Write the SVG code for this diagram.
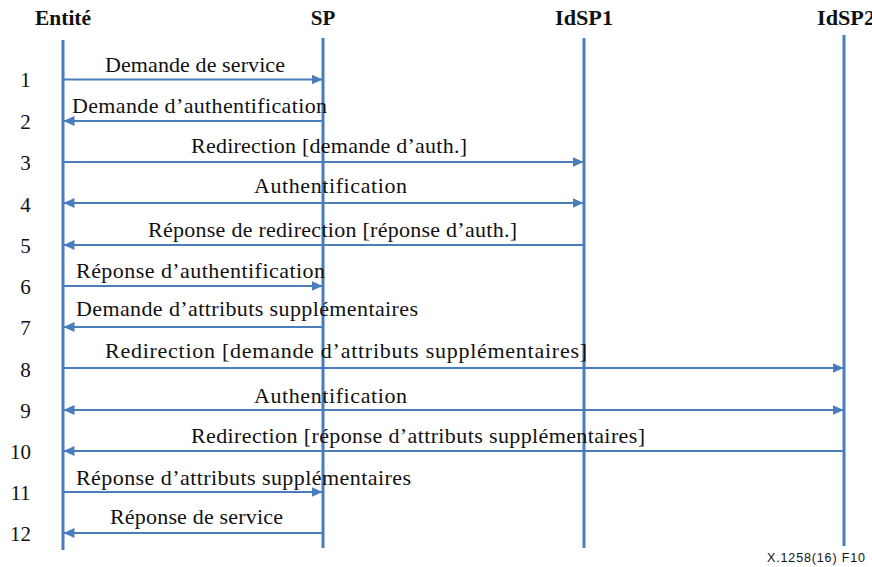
<svg xmlns="http://www.w3.org/2000/svg" width="872" height="567" viewBox="0 0 872 567">
<style>
.life{stroke:#4a7dbc;stroke-width:3;fill:none}
.msg{stroke:#4a7dbc;stroke-width:2.2;fill:none}
.hdr{font-family:"Liberation Serif","Times New Roman",serif;font-weight:bold;font-size:21px;fill:#111;text-anchor:middle}
.lbl{font-family:"Liberation Serif","Times New Roman",serif;font-size:22px;fill:#111}
.num{font-family:"Liberation Serif","Times New Roman",serif;font-size:21px;fill:#111;text-anchor:middle}
.foot{font-family:"Liberation Sans",Arial,sans-serif;font-size:12.5px;fill:#111}
</style>
<defs>
<marker id="ah" markerUnits="userSpaceOnUse" markerWidth="11" markerHeight="10" viewBox="0 0 11 10" refX="10.5" refY="5" orient="auto-start-reverse">
<path d="M0,0 L11,5 L0,10 z" fill="#4a7dbc"/>
</marker>
</defs>
<rect width="872" height="567" fill="#fff"/>
<g id="entite">
<text class="hdr" x="63" y="25" textLength="56" lengthAdjust="spacingAndGlyphs">Entité</text>
<line class="life" x1="63" y1="40" x2="63" y2="550"/>
</g>
<g id="sp">
<text class="hdr" x="323" y="25">SP</text>
<line class="life" x1="323" y1="38" x2="323" y2="548"/>
</g>
<g id="idsp1">
<text class="hdr" x="584" y="25" textLength="58" lengthAdjust="spacingAndGlyphs">IdSP1</text>
<line class="life" x1="584" y1="38" x2="584" y2="548"/>
</g>
<g id="idsp2">
<text class="hdr" x="846" y="25" textLength="58" lengthAdjust="spacingAndGlyphs">IdSP2</text>
<line class="life" x1="844" y1="35" x2="844" y2="546"/>
</g>
<g id="connectors">
<line class="msg" x1="64" y1="79.5" x2="322" y2="79.5" marker-end="url(#ah)"/>
<line class="msg" x1="322" y1="121" x2="64" y2="121" marker-end="url(#ah)"/>
<line class="msg" x1="64" y1="162" x2="583" y2="162" marker-end="url(#ah)"/>
<line class="msg" x1="64" y1="203" x2="583" y2="203" marker-start="url(#ah)" marker-end="url(#ah)"/>
<line class="msg" x1="583" y1="245" x2="64" y2="245" marker-end="url(#ah)"/>
<line class="msg" x1="64" y1="286" x2="322" y2="286" marker-end="url(#ah)"/>
<line class="msg" x1="322" y1="327" x2="64" y2="327" marker-end="url(#ah)"/>
<line class="msg" x1="64" y1="368" x2="843" y2="368" marker-end="url(#ah)"/>
<line class="msg" x1="64" y1="410" x2="843" y2="410" marker-start="url(#ah)" marker-end="url(#ah)"/>
<line class="msg" x1="843" y1="451" x2="64" y2="451" marker-end="url(#ah)"/>
<line class="msg" x1="64" y1="492" x2="322" y2="492" marker-end="url(#ah)"/>
<line class="msg" x1="322" y1="533" x2="64" y2="533" marker-end="url(#ah)"/>
</g>
<g id="labels">
<text class="lbl" x="105" y="72" textLength="180" lengthAdjust="spacing">Demande de service</text>
<text class="lbl" x="72" y="113" textLength="255" lengthAdjust="spacing">Demande d’authentification</text>
<text class="lbl" x="191" y="153" textLength="276" lengthAdjust="spacing">Redirection [demande d’auth.]</text>
<text class="lbl" x="254" y="193" textLength="153" lengthAdjust="spacing">Authentification</text>
<text class="lbl" x="148" y="237" textLength="369" lengthAdjust="spacing">Réponse de redirection [réponse d’auth.]</text>
<text class="lbl" x="76" y="278" textLength="249" lengthAdjust="spacing">Réponse d’authentification</text>
<text class="lbl" x="76" y="316" textLength="342" lengthAdjust="spacing">Demande d’attributs supplémentaires</text>
<text class="lbl" x="105" y="358" textLength="482" lengthAdjust="spacing">Redirection [demande d’attributs supplémentaires]</text>
<text class="lbl" x="254" y="403" textLength="153" lengthAdjust="spacing">Authentification</text>
<text class="lbl" x="191" y="443" textLength="454" lengthAdjust="spacing">Redirection [réponse d’attributs supplémentaires]</text>
<text class="lbl" x="76" y="485" textLength="335" lengthAdjust="spacing">Réponse d’attributs supplémentaires</text>
<text class="lbl" x="110" y="524" textLength="173" lengthAdjust="spacing">Réponse de service</text>
</g>
<g id="numbers">
<text class="num" x="25.5" y="87">1</text>
<text class="num" x="25.5" y="129">2</text>
<text class="num" x="25.5" y="170">3</text>
<text class="num" x="25.5" y="212">4</text>
<text class="num" x="25.5" y="253">5</text>
<text class="num" x="25.5" y="294">6</text>
<text class="num" x="25.5" y="335">7</text>
<text class="num" x="25.5" y="377">8</text>
<text class="num" x="25.5" y="418">9</text>
<text class="num" x="20.5" y="459">10</text>
<text class="num" x="20.5" y="500">11</text>
<text class="num" x="20.5" y="541">12</text>
</g>
<text class="foot" x="767" y="562" textLength="98" lengthAdjust="spacing">X.1258(16)  F10</text>
</svg>
